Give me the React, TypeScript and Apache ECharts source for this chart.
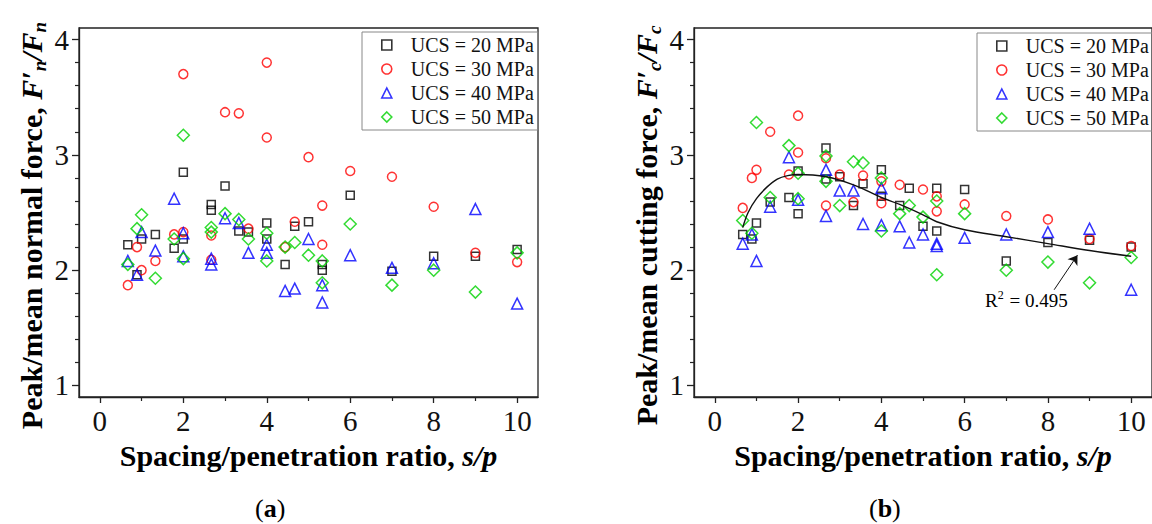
import { useEffect, useRef } from "react";
import * as echarts from "echarts";

const FONT = '"Liberation Serif", "Times New Roman", Times, serif';

const seriesNames = ["UCS = 20 MPa", "UCS = 30 MPa", "UCS = 40 MPa", "UCS = 50 MPa"];
const seriesColors = ["#000000", "#ff0000", "#0000ff", "#00d200"];
const seriesSymbols = ["rect", "circle", "triangle", "diamond"];
const symbolSizes = [8, 9, 11, 12];

// (a) peak/mean normal force
const normal20 = [[0.67,2.22],[0.89,1.96],[1,2.27],[1.33,2.31],[1.78,2.19],[2,2.85],[2,2.27],[2.67,2.57],[2.67,2.52],[3,2.73],[3.33,2.34],[3.56,2.33],[4,2.41],[4,2.27],[4.44,2.05],[4.67,2.38],[5,2.42],[5.33,2.05],[5.33,2.0],[6,2.65],[7,1.99],[8,2.12],[9,2.12],[10,2.18]];
const normal30 = [[0.67,1.87],[0.89,2.2],[1,2.0],[1.33,2.08],[1.78,2.31],[2,3.7],[2,2.33],[2.67,2.3],[2.67,2.09],[3,3.37],[3.33,3.36],[3.56,2.36],[4,3.8],[4,3.15],[4.44,2.2],[4.67,2.42],[5,2.98],[5.33,2.56],[5.33,2.22],[6,2.86],[7,2.81],[8,2.55],[9,2.15],[10,2.07]];
const normal40 = [[0.67,2.08],[0.89,1.96],[1,2.33],[1.33,2.17],[1.78,2.62],[2,2.32],[2,2.12],[2.67,2.1],[2.67,2.05],[3,2.45],[3.33,2.41],[3.56,2.15],[4,2.22],[4,2.15],[4.44,1.82],[4.67,1.84],[5,2.27],[5.33,1.87],[5.33,1.72],[6,2.13],[7,2.02],[8,2.06],[9,2.53],[10,1.71]];
const normal50 = [[0.67,2.05],[0.89,2.36],[1,2.48],[1.33,1.93],[1.78,2.27],[2,3.17],[2,2.1],[2.67,2.37],[2.67,2.33],[3,2.49],[3.33,2.44],[3.56,2.27],[4,2.32],[4,2.08],[4.44,2.2],[4.67,2.24],[5,2.13],[5.33,2.08],[5.33,1.89],[6,2.4],[7,1.87],[8,2.0],[9,1.81],[10,2.15]];

// (b) peak/mean cutting force
const cutting20 = [[0.67,2.31],[0.89,2.27],[1,2.41],[1.33,2.59],[1.78,2.63],[2,2.86],[2,2.49],[2.67,3.06],[2.67,2.79],[3,2.81],[3.33,2.56],[3.56,2.75],[4,2.87],[4,2.64],[4.44,2.56],[4.67,2.71],[5,2.38],[5.33,2.71],[5.33,2.34],[6,2.7],[7,2.08],[8,2.24],[9,2.26],[10,2.2]];
const cutting30 = [[0.67,2.54],[0.89,2.8],[1,2.87],[1.33,3.2],[1.78,2.83],[2,3.34],[2,3.02],[2.67,2.97],[2.67,2.56],[3,2.83],[3.33,2.59],[3.56,2.82],[4,2.77],[4,2.58],[4.44,2.74],[5,2.7],[5.33,2.64],[5.33,2.51],[6,2.57],[7,2.47],[8,2.44],[9,2.27],[10,2.21]];
const cutting40 = [[0.67,2.23],[0.89,2.31],[1,2.08],[1.33,2.55],[1.78,2.98],[2,2.61],[2.67,2.87],[2.67,2.47],[3,2.69],[3.33,2.69],[3.56,2.4],[4,2.71],[4,2.39],[4.44,2.38],[4.67,2.24],[5,2.31],[5.33,2.23],[5.33,2.21],[6,2.28],[7,2.31],[8,2.33],[9,2.36],[10,1.83]];
const cutting50 = [[0.67,2.43],[0.89,2.32],[1,3.28],[1.33,2.63],[1.78,3.08],[2,2.84],[2,2.62],[2.67,2.99],[2.67,2.77],[3,2.56],[3.33,2.94],[3.56,2.93],[4,2.8],[4,2.34],[4.44,2.49],[4.67,2.56],[5,2.46],[5.33,2.6],[5.33,1.96],[6,2.49],[7,2.0],[8,2.07],[9,1.89],[10,2.11]];

// fitted curve
const fitCurve = [[0.67,2.37],[0.8,2.5],[1,2.62],[1.25,2.72],[1.5,2.79],[1.75,2.82],[2,2.83],[2.67,2.81],[3.33,2.74],[4,2.63],[4.44,2.57],[5,2.48],[5.33,2.42],[6,2.35],[7,2.29],[8,2.23],[9,2.17],[10,2.12]];
const fitLabel = "{r|R}{sup|2}{r| = 0.495}";
const arrowFrom = [8.15, 1.83];
const arrowTo = [8.71, 2.13];

const xTicks = [0, 2, 4, 6, 8, 10];
const xMinorTicks = [1, 3, 5, 7, 9];
const yTicks = [1, 2, 3, 4];
const yMinorTicks = [1.2, 1.4, 1.6, 1.8, 2.2, 2.4, 2.6, 2.8, 3.2, 3.4, 3.6, 3.8];
const xRange = [-0.5, 10.5];
const yRange = [0.9, 4.1];

const normalSets = [normal20, normal30, normal40, normal50];
const cuttingSets = [cutting20, cutting30, cutting40, cutting50];

const AX = "#222";

const richBase = {
  b: { fontFamily: FONT, fontWeight: "bold", fontSize: 30, color: "#000" },
  i: { fontFamily: FONT, fontWeight: "bold", fontStyle: "italic", fontSize: 30, color: "#000" },
  s: { fontFamily: FONT, fontWeight: "bold", fontStyle: "italic", fontSize: 19, color: "#000", padding: [17, 0, 0, 0] },
};

function xAxes(gridIndex: number) {
  return [
    {
      gridIndex,
      type: "value",
      min: xRange[0],
      max: xRange[1],
      name: "{b|Spacing/penetration ratio, }{i|s/p}",
      nameLocation: "middle",
      nameGap: 43,
      nameTextStyle: { rich: richBase },
      axisLine: { show: true, onZero: false, lineStyle: { color: AX, width: 1.3 } },
      axisTick: { show: true, customValues: xTicks, length: 6, lineStyle: { color: AX, width: 1.3 } },
      axisLabel: { customValues: xTicks, fontFamily: FONT, fontSize: 29, color: "#111", margin: 9 },
      splitLine: { show: false },
    },
    {
      gridIndex,
      type: "value",
      min: xRange[0],
      max: xRange[1],
      position: "bottom",
      axisLine: { show: false, onZero: false },
      axisTick: { show: true, customValues: xMinorTicks, length: 4, lineStyle: { color: AX, width: 1.2 } },
      axisLabel: { show: false },
      splitLine: { show: false },
    },
  ];
}

function yAxes(gridIndex: number, name: string) {
  return [
    {
      gridIndex,
      type: "value",
      min: yRange[0],
      max: yRange[1],
      name,
      nameLocation: "middle",
      nameGap: 30,
      nameTextStyle: { rich: richBase, padding: [0, 26, 0, 0] },
      axisLine: { show: true, onZero: false, lineStyle: { color: AX, width: 1.3 } },
      axisTick: { show: true, customValues: yTicks, length: 7, lineStyle: { color: AX, width: 1.3 } },
      axisLabel: { customValues: yTicks, fontFamily: FONT, fontSize: 29, color: "#111", margin: 10 },
      splitLine: { show: false },
    },
    {
      gridIndex,
      type: "value",
      min: yRange[0],
      max: yRange[1],
      position: "left",
      axisLine: { show: false, onZero: false },
      axisTick: { show: true, customValues: yMinorTicks, length: 4, lineStyle: { color: AX, width: 1.2 } },
      axisLabel: { show: false },
      splitLine: { show: false },
    },
  ];
}

function scatterSeries(sets: number[][][], axisIndex: number) {
  return sets.map((data, k) => ({
    type: "scatter",
    name: seriesNames[k],
    xAxisIndex: axisIndex,
    yAxisIndex: axisIndex,
    data,
    symbol: seriesSymbols[k],
    symbolSize: symbolSizes[k],
    itemStyle: { color: "rgba(255,255,255,0)", borderColor: seriesColors[k], borderWidth: 1.5 },
    emphasis: { disabled: true },
    silent: true,
    z: 3,
  }));
}

function legend(left: number, top: number) {
  return {
    data: seriesNames,
    orient: "vertical",
    left,
    top,
    itemWidth: 10,
    itemHeight: 10,
    itemGap: 4,
    padding: [3, 4, 3, 19],
    borderColor: "#888",
    borderWidth: 1,
    selectedMode: false,
    itemStyle: { borderWidth: 1.6 },
    textStyle: { fontFamily: FONT, fontSize: 20, color: "#111", padding: [0, 0, 0, 14] },
  };
}

function caption(letter: string, left: number) {
  return {
    type: "text",
    left,
    top: 495,
    style: {
      text: `{n|(}{b|${letter}}{n|)}`,
      rich: {
        n: { fontFamily: FONT, fontSize: 26, color: "#000" },
        b: { fontFamily: FONT, fontSize: 26, fontWeight: "bold", color: "#000" },
      },
    },
  };
}

export default function App() {
  const ref = useRef<HTMLDivElement>(null);
  useEffect(() => {
    if (!ref.current) return;
    const chart = echarts.init(ref.current, null, { renderer: "svg" });
    chart.setOption({
      animation: false,
      backgroundColor: "#ffffff",
      grid: [
        { left: 79, top: 28, width: 459, height: 369, show: true, borderColor: AX, borderWidth: 1.3, backgroundColor: "transparent" },
        { left: 694, top: 28, width: 459, height: 369, show: true, borderColor: AX, borderWidth: 1.3, backgroundColor: "transparent" },
      ],
      xAxis: [...xAxes(0), ...xAxes(1)],
      yAxis: [
        ...yAxes(0, "{b|Peak/mean normal force, }{i|F′}{s|n}{i|/F}{s|n}"),
        ...yAxes(1, "{b|Peak/mean cutting force, }{i|F′}{s|c}{i|/F}{s|c}"),
      ],
      legend: [legend(362, 32), legend(977, 33)],
      series: [
        ...scatterSeries(normalSets, 0),
        ...scatterSeries(cuttingSets, 2),
        {
          type: "line",
          name: "fit",
          xAxisIndex: 2,
          yAxisIndex: 2,
          data: fitCurve,
          smooth: 0.35,
          showSymbol: false,
          symbol: "none",
          silent: true,
          lineStyle: { color: "#111", width: 1.4 },
          z: 4,
          markLine: {
            silent: true,
            symbol: ["none", "arrow"],
            symbolSize: 9,
            lineStyle: { color: "#111", width: 1, type: "solid" },
            label: { show: false },
            data: [[{ coord: arrowFrom }, { coord: arrowTo }]],
          },
        },
      ],
      graphic: [
        {
          type: "text",
          left: 985,
          top: 289,
          style: {
            text: fitLabel,
            rich: {
              r: { fontFamily: FONT, fontSize: 19, color: "#111", padding: [4, 0, 0, 0] },
              sup: { fontFamily: FONT, fontSize: 12, color: "#111", padding: [0, 1, 6, 0] },
            },
          },
        },
        caption("a", 255),
        caption("b", 869),
      ],
    });
    return () => chart.dispose();
  }, []);
  return (
    <div
      ref={ref}
      style={{ position: "fixed", left: 0, top: 0, width: "1152px", height: "524px", background: "#fff" }}
    />
  );
}
